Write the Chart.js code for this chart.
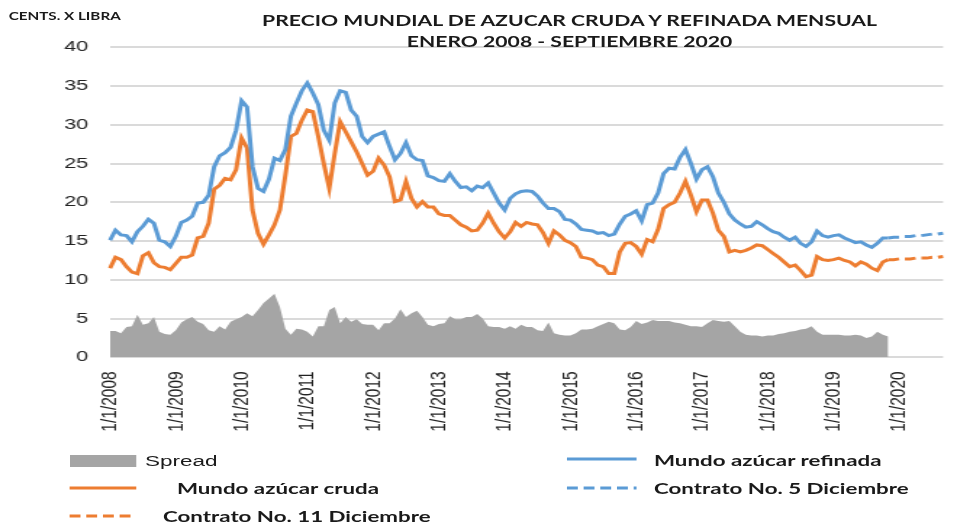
<!DOCTYPE html>
<html>
<head>
<meta charset="utf-8">
<script src="https://cdn.jsdelivr.net/npm/chart.js@4.4.1/dist/chart.umd.min.js"></script>
<style>
  html, body { margin:0; padding:0; overflow:hidden; background:#fff; width:969px; height:525px; }
  #wrap { position:absolute; left:0; top:0; width:683px; height:525px; transform:scaleX(1.45); transform-origin:0 0; }
  #c { position:absolute; left:0; top:0; }
  .txt { position:absolute; white-space:nowrap; color:#1a1a1a; }
  .b { font-family:Lato, "Open Sans", sans-serif; font-weight:700; }
  .n { font-family:"Liberation Sans", Arial, sans-serif; font-weight:400; }
  svg { position:absolute; overflow:visible; }
</style>
</head>
<body>
<div id="wrap">
  <canvas id="c" width="683" height="525"></canvas>
  <div class="txt b" style="left:6px; top:9px; font-size:10.5px; line-height:14px;">CENTS. X LIBRA</div>
  <div class="txt b" style="left:92.8px; width:600px; text-align:center; top:11px; font-size:14.6px; line-height:20px;">PRECIO MUNDIAL DE AZUCAR CRUDA Y REFINADA MENSUAL</div>
  <div class="txt b" style="left:92.8px; width:600px; text-align:center; top:32px; font-size:14.6px; line-height:20px;">ENERO 2008 - SEPTIEMBRE 2020</div>

  <!-- legend -->
  <div style="position:absolute; left:48.3px; top:455px; width:46.2px; height:12px; background:#a5a5a5;"></div>
  <div class="txt n" style="left:100px; top:451px; font-size:15.5px; line-height:20px;">Spread</div>

  <svg style="left:391px; top:459px;" width="48" height="4"><line x1="0" y1="0" x2="48" y2="0" stroke="#5b9bd5" stroke-width="3"/></svg>
  <div class="txt b" style="left:451px; top:450px; font-size:15.4px; line-height:20px;">Mundo azúcar refinada</div>

  <svg style="left:48.3px; top:488px;" width="46" height="4"><line x1="0" y1="0" x2="46" y2="0" stroke="#ed7d31" stroke-width="3"/></svg>
  <div class="txt b" style="left:122px; top:478px; font-size:15.4px; line-height:20px;">Mundo azúcar cruda</div>

  <svg style="left:391px; top:488px;" width="48" height="4"><line x1="0" y1="0" x2="48" y2="0" stroke="#5b9bd5" stroke-width="3" stroke-dasharray="7.5 4"/></svg>
  <div class="txt b" style="left:451px; top:478px; font-size:15.4px; line-height:20px;">Contrato No. 5 Diciembre</div>

  <svg style="left:48.3px; top:516px;" width="42" height="4"><line x1="0" y1="0" x2="42" y2="0" stroke="#ed7d31" stroke-width="3" stroke-dasharray="7.5 4"/></svg>
  <div class="txt b" style="left:112.4px; top:506px; font-size:15.4px; line-height:20px;">Contrato No. 11 Diciembre</div>
</div>

<script>
// ---- categories: monthly, Jan 2008 .. Sep 2020 ----
const startYear = 2008;
const monthCount = 153;
const months = [];
for (let i = 0; i < monthCount; i++) {
  const y = startYear + Math.floor(i / 12);
  const m = (i % 12) + 1;
  months.push(m + '/1/' + y);
}

// ---- series (cents per pound), Jan 2008 .. Nov 2019 ----
const refinada = [
  15.1,16.4,15.8,15.7,14.9,16.2,16.9,17.8,17.3,15.1,14.9,14.3,
  15.6,17.4,17.7,18.2,19.9,20.0,20.9,24.6,26.0,26.4,27.1,29.3,
  33.1,32.3,24.6,21.8,21.4,23.0,25.7,25.4,26.8,31.1,32.8,34.4,
  35.4,34.1,32.6,29.3,28.0,32.8,34.4,34.2,31.9,31.1,28.5,27.7,
  28.5,28.8,29.1,27.2,25.5,26.3,27.7,26.0,25.5,25.4,23.4,23.2,
  22.8,22.7,23.7,22.7,21.9,22.0,21.5,22.1,21.9,22.5,21.2,19.9,
  19.0,20.5,21.1,21.4,21.5,21.4,20.8,19.9,19.2,19.2,18.8,17.8,
  17.7,17.2,16.5,16.4,16.3,16.0,16.1,15.7,15.9,17.2,18.2,18.5,
  18.9,17.6,19.7,19.9,21.2,23.7,24.4,24.3,25.8,26.8,25.0,23.0,
  24.2,24.6,23.3,21.2,20.0,18.5,17.7,17.2,16.8,16.9,17.5,17.1,
  16.6,16.2,16.0,15.5,15.1,15.5,14.7,14.3,14.9,16.3,15.7,15.5,
  15.7,15.8,15.4,15.1,14.8,14.9,14.5,14.2,14.7,15.4,15.4
];
const cruda = [
  11.5,12.9,12.6,11.7,11.0,10.8,13.1,13.5,12.2,11.7,11.6,11.3,
  12.1,12.9,12.9,13.2,15.4,15.6,17.3,21.7,22.2,23.1,22.9,24.2,
  28.3,27.0,19.0,16.0,14.6,15.8,17.1,19.0,23.5,28.5,28.9,30.6,
  31.9,31.7,28.5,25.0,21.8,26.3,30.4,29.1,27.8,26.5,25.0,23.5,
  24.0,25.7,24.8,23.3,20.1,20.3,22.7,20.5,19.4,20.1,19.4,19.4,
  18.5,18.3,18.3,17.7,17.1,16.8,16.3,16.4,17.3,18.6,17.3,16.2,
  15.4,16.2,17.4,16.9,17.4,17.2,17.1,16.1,14.7,16.3,15.8,15.1,
  14.8,14.3,12.9,12.8,12.6,11.9,11.7,10.8,10.8,13.6,14.7,14.8,
  14.3,13.3,15.2,14.9,16.5,19.2,19.7,20.0,21.2,22.7,20.9,18.8,
  20.3,20.3,18.6,16.4,15.6,13.6,13.8,13.6,13.8,14.1,14.5,14.4,
  13.9,13.4,12.9,12.3,11.7,11.9,11.2,10.4,10.6,13.0,12.6,12.5,
  12.6,12.8,12.5,12.3,11.8,12.3,12.0,11.5,11.2,12.3,12.6
];
const spread = [
  3.4,3.4,3.1,3.9,4.0,5.5,4.2,4.4,5.2,3.3,3.0,2.9,
  3.5,4.5,4.9,5.2,4.6,4.3,3.5,3.3,4.0,3.6,4.6,4.9,
  5.2,5.7,5.3,6.1,7.0,7.6,8.2,6.5,3.7,2.9,3.7,3.6,
  3.3,2.7,4.0,4.0,6.1,6.5,4.4,5.2,4.6,4.9,4.3,4.2,
  4.2,3.5,4.4,4.4,5.0,6.2,5.2,5.7,6.0,5.2,4.2,4.0,
  4.3,4.4,5.3,4.9,4.9,5.2,5.2,5.6,5.0,4.0,3.9,3.9,
  3.7,4.0,3.7,4.2,3.9,3.9,3.5,3.4,4.5,3.1,2.9,2.8,
  2.8,3.1,3.6,3.6,3.7,4.0,4.3,4.6,4.4,3.6,3.5,3.9,
  4.7,4.3,4.5,4.8,4.7,4.7,4.7,4.5,4.4,4.2,4.0,4.0,
  3.9,4.4,4.8,4.7,4.6,4.7,4.0,3.3,2.9,2.8,2.8,2.7,
  2.8,2.8,3.0,3.1,3.3,3.4,3.6,3.7,4.0,3.3,2.9,2.9,
  2.9,2.9,2.8,2.8,2.9,2.8,2.5,2.7,3.3,2.9,2.7
];
// ---- December futures, Nov 2019 .. Sep 2020 ----
const contratoStart = 142;
const contrato5 = [15.4,15.5,15.5,15.6,15.6,15.7,15.7,15.8,15.9,15.9,16.0];
const contrato11 = [12.6,12.6,12.7,12.7,12.7,12.8,12.8,12.8,12.9,12.9,13.0];
const yTicks = [0,5,10,15,20,25,30,35,40];

function pad(arr, start) {
  const out = new Array(monthCount).fill(null);
  arr.forEach((v, i) => { out[start + i] = v; });
  return out;
}

const K = 1.45;
const H = 525;
const chartTop = 47.3, chartBottom = 357.3;
const leftPx = 110 / K, rightPx = 976.4 / K;

new Chart(document.getElementById('c'), {
  type: 'line',
  data: {
    labels: months,
    datasets: [
      { label: 'Mundo azúcar refinada', data: pad(refinada, 0), borderColor: '#5b9bd5', borderWidth: 3, pointRadius: 0, tension: 0, fill: false },
      { label: 'Mundo azúcar cruda', data: pad(cruda, 0), borderColor: '#ed7d31', borderWidth: 3, pointRadius: 0, tension: 0, fill: false },
      { label: 'Contrato No. 5 Diciembre', data: pad(contrato5, contratoStart), borderColor: '#5b9bd5', borderWidth: 3, borderDash: [7.5, 4], pointRadius: 0, tension: 0, fill: false },
      { label: 'Contrato No. 11 Diciembre', data: pad(contrato11, contratoStart), borderColor: '#ed7d31', borderWidth: 3, borderDash: [7.5, 4], pointRadius: 0, tension: 0, fill: false },
      { label: 'Spread', data: pad(spread, 0), borderColor: '#a5a5a5', backgroundColor: '#a5a5a5', borderWidth: 0, pointRadius: 0, tension: 0, fill: 'origin' }
    ]
  },
  options: {
    responsive: false,
    animation: false,
    events: [],
    layout: { padding: { top: chartTop, left: 0, right: 683 - rightPx, bottom: 0 } },
    plugins: { legend: { display: false }, tooltip: { enabled: false }, title: { display: false } },
    scales: {
      x: {
        type: 'category',
        grid: { display: false, drawTicks: false },
        border: { display: false },
        ticks: {
          autoSkip: false, minRotation: 90, maxRotation: 90, padding: 14,
          color: '#222', font: { family: '"Liberation Sans", Arial, sans-serif', size: 15.5 },
          callback: function (v) { const l = this.getLabelForValue(v); return l.split('/')[0] === '1' ? l : ''; }
        },
        afterFit: (s) => { s.height = H - chartBottom; }
      },
      y: {
        min: 0, max: 40,
        afterBuildTicks: (s) => { s.ticks = yTicks.map(v => ({ value: v })); },
        grid: { color: '#dadada', lineWidth: 2, drawTicks: false },
        border: { display: false },
        ticks: { padding: 15, color: '#222', font: { family: '"Liberation Sans", Arial, sans-serif', size: 15 } },
        afterFit: (s) => { s.width = leftPx; }
      }
    }
  }
});
</script>
</body>
</html>
